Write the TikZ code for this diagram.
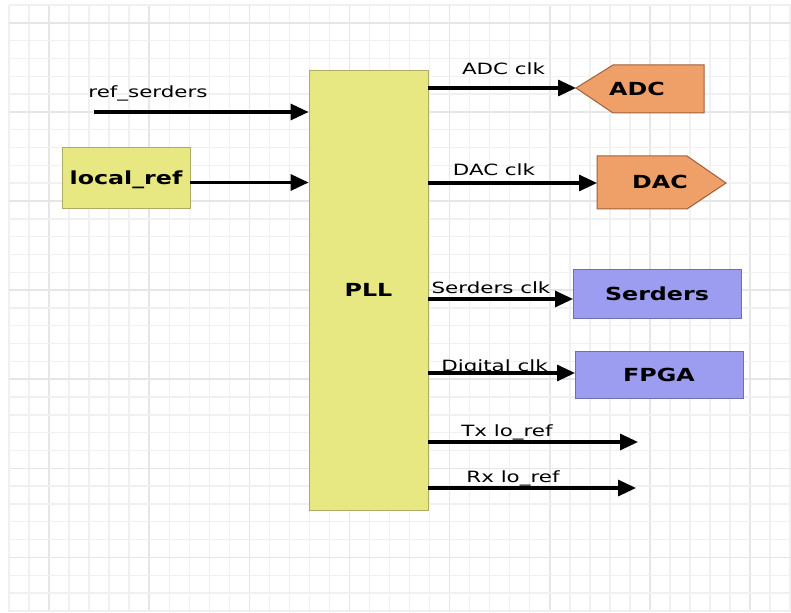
\documentclass[tikz,border=0pt]{standalone}
\usepackage{fontspec}
\setmainfont{DejaVu Sans}
\usepackage{graphicx}
\usetikzlibrary{arrows.meta}
\definecolor{gridminor}{RGB}{240,240,240}
\definecolor{gridmajor}{RGB}{230,230,230}
\definecolor{yfill}{RGB}{232,232,130}
\definecolor{yborder}{RGB}{176,170,100}
\definecolor{ofill}{RGB}{238,160,104}
\definecolor{oborder}{RGB}{160,96,58}
\definecolor{bfill}{RGB}{156,156,240}
\definecolor{bborder}{RGB}{110,110,176}
\newcommand{\wlbl}[1]{\scalebox{1.38}[1]{#1}}
\newcommand{\wbold}[1]{\scalebox{1.32}[1]{#1}}
\tikzset{
  arr/.style={-{Triangle[length=18pt,width=16pt]}, line width=3.2pt},
  lbl/.style={inner sep=0pt, anchor=base, font=\fontsize{15.5}{18}\selectfont},
  btxt/.style={inner sep=0pt, font=\bfseries\fontsize{18}{21}\selectfont, text depth=0pt},
  ybox/.style={fill=yfill, draw=yborder, line width=0.8pt, inner sep=0pt, font=\bfseries\fontsize{18}{21}\selectfont, text depth=0pt},
  bbox/.style={fill=bfill, draw=bborder, line width=1pt, inner sep=0pt, font=\bfseries\fontsize{18}{21}\selectfont, text depth=0pt},
  oshape/.style={fill=ofill, draw=oborder, line width=1pt}
}
\begin{document}
\begin{tikzpicture}[x=1pt,y=-1pt]
\useasboundingbox (0,0) rectangle (791,612);
\fill[white] (0,0) rectangle (791,612);
% grid
\foreach \k in {0,...,39}{
  \pgfmathsetmacro{\gx}{9+20.03*\k}
  \pgfmathtruncatemacro{\m}{mod(\k,5)}
  \ifnum\m=2
    \draw[gridmajor, line width=1.6pt] (\gx,5) -- (\gx,612);
  \else
    \draw[gridminor, line width=1.4pt] (\gx,5) -- (\gx,612);
  \fi
}
\foreach \k in {0,...,34}{
  \pgfmathsetmacro{\gy}{5+17.82*\k}
  \pgfmathtruncatemacro{\m}{mod(\k,5)}
  \ifnum\m=1
    \draw[gridmajor, line width=1.6pt] (9,\gy) -- (791,\gy);
  \else
    \draw[gridminor, line width=1.4pt] (9,\gy) -- (791,\gy);
  \fi
}
% PLL and local_ref
\node[ybox, minimum width=119pt, minimum height=440pt] (PLL) at (368.5,290) {\wbold{PLL}};
\node[ybox, minimum width=128pt, minimum height=61pt] (LR) at (126,177.5) {\wbold{local\_ref}};
% ADC shape
\filldraw[oshape] (576,88) -- (613,65) -- (704,65) -- (704,113) -- (613,113) -- cycle;
\node[btxt] (ADC) at (637,89) {\wbold{ADC}};
\coordinate (ADCtip) at (576,88);
% DAC shape
\filldraw[oshape] (597,156) -- (687,156) -- (726,183) -- (687,209) -- (597,209) -- cycle;
\node[btxt] (DAC) at (660,182) {\wbold{DAC}};
\coordinate (DACin) at (597,183);
% blue boxes
\node[bbox, minimum width=168pt, minimum height=49pt] (SER) at (657,293.5) {\wbold{Serders}};
\node[bbox, minimum width=168pt, minimum height=47pt] (FPGA) at (659,374.5) {\wbold{FPGA}};
\coordinate (SERin) at (573,299);
\coordinate (FPGAin) at (575,373);
% inputs
\coordinate (rs) at (94,112);
\draw[arr] (rs) -- (rs -| PLL.west);
\coordinate (lrout) at ([yshift=-5pt]LR.east);
\draw[arr] (lrout) -- (lrout -| PLL.west);
% outputs
\draw[arr] (ADCtip -| PLL.east) -- (ADCtip);
\draw[arr] (DACin -| PLL.east) -- (DACin);
\draw[arr] (SERin -| PLL.east) -- (SERin);
\draw[arr] (FPGAin -| PLL.east) -- (FPGAin);
\coordinate (txend) at (638,442);
\coordinate (rxend) at (636,488);
\draw[arr] (txend -| PLL.east) -- (txend);
\draw[arr] (rxend -| PLL.east) -- (rxend);
% labels
\node[lbl] (l1) at (148,98) {\wlbl{ref\_serders}};
\node[lbl] (l2) at (503.5,75) {\wlbl{ADC clk}};
\node[lbl] (l3) at (494,176) {\wlbl{DAC clk}};
\node[lbl] (l4) at (491,293) {\wlbl{Serders clk}};
\node[lbl] (l5) at (494.5,371) {\wlbl{Digital clk}};
\node[lbl] (l6) at (507,436) {\wlbl{Tx lo\_ref}};
\node[lbl] (l7) at (513,482) {\wlbl{Rx lo\_ref}};
\end{tikzpicture}
\end{document}
